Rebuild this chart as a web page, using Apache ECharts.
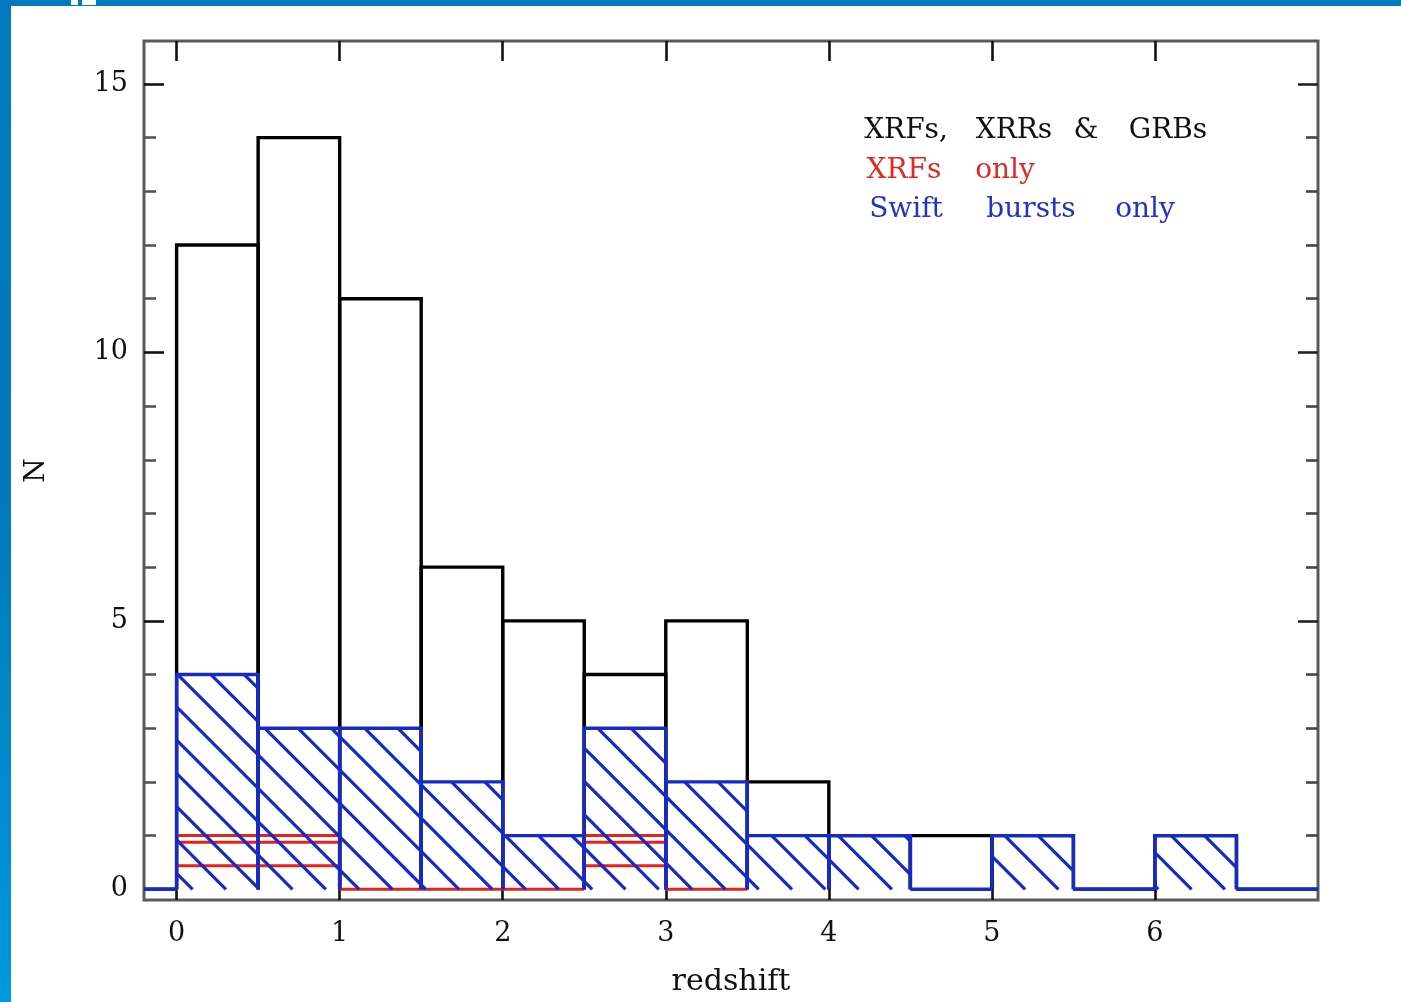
<!DOCTYPE html>
<html>
<head>
<meta charset="utf-8">
<script src="https://cdn.jsdelivr.net/npm/echarts@6/dist/echarts.min.js"></script>
<style>
  html, body { margin: 0; padding: 0; background: #fff; }
  #chart { width: 1401px; height: 1002px; }
</style>
</head>
<body>
<div id="chart"></div>
<script>
// Redshift histogram: all bursts, XRFs only, Swift bursts only (bins of 0.5)
const binWidth = 0.5;
const binStarts  = [-0.5, 0, 0.5, 1, 1.5, 2, 2.5, 3, 3.5, 4, 4.5, 5, 5.5, 6, 6.5];
const allBursts  = [0, 12, 14, 11, 6, 5, 4, 5, 2, 1, 1, 1, 0, 1, 0];
const xrfOnly    = [null, 1, 1, 0, 0, 0, 1, 0, null, null, null, null, null, null, null];
const swiftOnly  = [0, 4, 3, 3, 2, 1, 3, 2, 1, 1, 0, 1, 0, 1, 0];

const xTicks      = [0, 1, 2, 3, 4, 5, 6];
const yMajorTicks = [0, 5, 10, 15];
const yMinorTicks = [1, 2, 3, 4, 6, 7, 8, 9, 11, 12, 13, 14];

const legendLine1 = ['XRFs,', 'XRRs', '&', 'GRBs'];
const legendLine2 = ['XRFs', 'only'];
const legendLine3 = ['Swift', 'bursts', 'only'];

const FONT = '"DejaVu Serif", "Liberation Serif", serif';
const BLACK = '#000000';
const RED = '#e3231c';
const BLUE = '#172ac4';

function binData(values) {
  const out = [];
  values.forEach((v, i) => {
    if (v !== null) out.push([binStarts[i], binStarts[i] + binWidth, v]);
  });
  return out;
}

// Each bin is drawn as an open box (left, top, right edges); empty bins as a line on zero.
function histRenderer(color, hatch, width) {
  return function (params, api) {
    const x0 = api.value(0), x1 = api.value(1), v = api.value(2);
    const bl = api.coord([x0, 0]);
    const tr = api.coord([x1, v]);
    const L = bl[0], R = tr[0], B = bl[1], T = tr[1];
    const children = [];
    if (v > 0 && hatch === 'diag') {
      const origin = api.coord([0, 0]);
      const step = 33.3;
      const base = origin[0] - origin[1] + 16;
      const kStart = Math.ceil((L - B - base) / step);
      const kEnd = Math.floor((R - T - base) / step);
      for (let k = kStart; k <= kEnd; k++) {
        const d = base + k * step;
        const xa = Math.max(L, T + d);
        const xb = Math.min(R, B + d);
        if (xb - xa > 0.5) {
          children.push({
            type: 'line',
            shape: { x1: xa, y1: xa - d, x2: xb, y2: xb - d },
            style: { stroke: color, lineWidth: 3.2 }
          });
        }
      }
    }
    if (v > 0 && hatch === 'horiz') {
      const gap = 23.5;
      for (let k = 1; B - k * gap > T + 2; k++) {
        const y = B - k * gap;
        children.push({
          type: 'line',
          shape: { x1: L, y1: y, x2: R, y2: y },
          style: { stroke: color, lineWidth: 3 }
        });
      }
    }
    const pts = v > 0 ? [[L, B], [L, T], [R, T], [R, B]] : [[L, B], [R, B]];
    children.push({
      type: 'polyline',
      shape: { points: pts },
      style: { stroke: color, lineWidth: width, fill: null }
    });
    return { type: 'group', children: children };
  };
}

function xAxisCfg(position, withLabels) {
  return {
    type: 'value', position: position, gridIndex: 0,
    min: -0.2, max: 7,
    axisLine: { show: false, onZero: false },
    splitLine: { show: false },
    axisTick: { show: true, inside: true, length: 20, customValues: xTicks,
                lineStyle: { color: '#111', width: 2.6 } },
    axisLabel: { show: withLabels, customValues: xTicks, margin: 20,
                 fontFamily: FONT, fontSize: 27, color: '#111' },
    name: withLabels ? 'redshift' : '',
    nameLocation: 'middle', nameGap: 67,
    nameTextStyle: { fontFamily: FONT, fontSize: 30, color: '#111' }
  };
}

function yAxisCfg(position, ticks, len, withLabels, tickColor) {
  return {
    type: 'value', position: position, gridIndex: 0,
    min: -0.2, max: 15.8,
    axisLine: { show: false, onZero: false },
    splitLine: { show: false },
    axisTick: { show: true, inside: true, length: len, customValues: ticks,
                lineStyle: { color: tickColor, width: 2.6 } },
    axisLabel: { show: withLabels, customValues: ticks, margin: 16,
                 fontFamily: FONT, fontSize: 27, color: '#111' },
    name: withLabels ? 'N' : '',
    nameLocation: 'middle', nameGap: 93, nameRotate: 90,
    nameTextStyle: { fontFamily: FONT, fontSize: 28, color: '#111' }
  };
}

function words(list, centers, y, color) {
  return list.map((w, i) => ({
    type: 'text', x: centers[i], y: y, z: 100,
    style: { text: w, fill: color, font: '28px ' + FONT,
             textAlign: 'center', textVerticalAlign: 'middle' }
  }));
}

const chart = echarts.init(document.getElementById('chart'), null, { renderer: 'canvas' });

chart.setOption({
  backgroundColor: '#ffffff',
  animation: false,
  grid: {
    left: 144, top: 41, width: 1174, height: 861,
    show: true, borderColor: '#5a5a5a', borderWidth: 3,
    backgroundColor: 'transparent'
  },
  xAxis: [xAxisCfg('bottom', true), xAxisCfg('top', false)],
  yAxis: [
    yAxisCfg('left', yMajorTicks, 20, true, '#111'),
    yAxisCfg('left', yMinorTicks, 12, false, '#555'),
    yAxisCfg('right', yMajorTicks, 20, false, '#222'),
    yAxisCfg('right', yMinorTicks, 12, false, '#444')
  ],
  series: [
    { type: 'custom', name: 'XRFs, XRRs & GRBs', xAxisIndex: 0, yAxisIndex: 0,
      clip: true, encode: { x: [0, 1], y: 2 },
      renderItem: histRenderer(BLACK, null, 3.4), data: binData(allBursts) },
    { type: 'custom', name: 'XRFs only', xAxisIndex: 0, yAxisIndex: 0,
      clip: true, encode: { x: [0, 1], y: 2 },
      renderItem: histRenderer(RED, 'horiz', 3), data: binData(xrfOnly) },
    { type: 'custom', name: 'Swift bursts only', xAxisIndex: 0, yAxisIndex: 0,
      clip: true, encode: { x: [0, 1], y: 2 },
      renderItem: histRenderer(BLUE, 'diag', 3.4), data: binData(swiftOnly) }
  ],
  graphic: [
    // slide frame
    { type: 'rect', z: 50, shape: { x: 0, y: 0, width: 1401, height: 6 },
      style: { fill: '#0079be' } },
    { type: 'rect', z: 51, shape: { x: 71, y: 0, width: 7, height: 5 },
      style: { fill: '#ffffff' } },
    { type: 'rect', z: 51, shape: { x: 82, y: 0, width: 14, height: 5 },
      style: { fill: '#ffffff' } },
    { type: 'rect', z: 50, shape: { x: 0, y: 0, width: 11, height: 1002 },
      style: { fill: new echarts.graphic.LinearGradient(0, 0, 0, 1, [
        { offset: 0, color: '#0079be' },
        { offset: 0.5, color: '#0078be' },
        { offset: 1, color: '#0098dc' }
      ]) } },
    ...words(legendLine1, [906, 1014, 1086, 1168], 131, '#111111'),
    ...words(legendLine2, [904, 1005], 171, '#e02a26'),
    ...words(legendLine3, [906, 1031, 1145], 210, '#2433c4')
  ]
});
</script>
</body>
</html>
